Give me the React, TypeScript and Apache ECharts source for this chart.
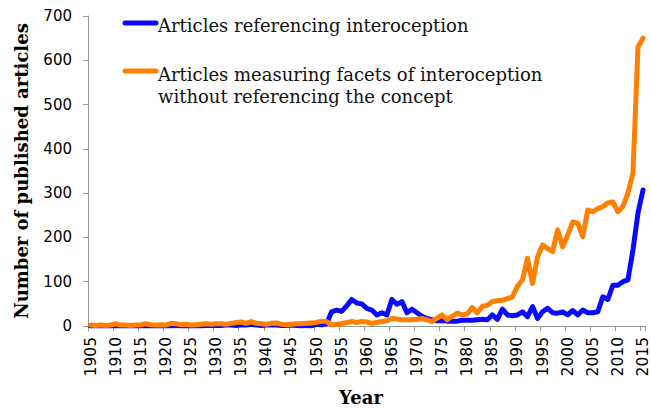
import React, { useEffect, useRef } from "react";
import * as echarts from "echarts";

const years: string[] = [
  "1905","1906","1907","1908","1909","1910","1911","1912","1913","1914",
  "1915","1916","1917","1918","1919","1920","1921","1922","1923","1924",
  "1925","1926","1927","1928","1929","1930","1931","1932","1933","1934",
  "1935","1936","1937","1938","1939","1940","1941","1942","1943","1944",
  "1945","1946","1947","1948","1949","1950","1951","1952","1953","1954",
  "1955","1956","1957","1958","1959","1960","1961","1962","1963","1964",
  "1965","1966","1967","1968","1969","1970","1971","1972","1973","1974",
  "1975","1976","1977","1978","1979","1980","1981","1982","1983","1984",
  "1985","1986","1987","1988","1989","1990","1991","1992","1993","1994",
  "1995","1996","1997","1998","1999","2000","2001","2002","2003","2004",
  "2005","2006","2007","2008","2009","2010","2011","2012","2013","2014",
  "2015",
];

// Articles referencing interoception (blue)
const referencing: number[] = [
  0,0,0,0,0,0,0,0,0,0,
  0,0,0,0,0,0,0,1,0,0,
  0,0,0,1,1,1,1,2,2,1,
  3,2,4,2,1,2,3,2,1,1,
  2,1,0,1,0,4,3,5,32,36,
  33,45,60,52,50,40,36,25,30,25,
  60,49,55,30,38,30,22,17,14,12,
  12,11,11,11,13,13,13,14,15,14,
  25,15,38,25,23,25,32,21,44,17,
  32,40,30,29,32,25,35,25,36,30,
  30,32,66,60,92,92,100,104,172,255,
  307,
];

// Articles measuring facets of interoception without referencing the concept (orange)
const measuring: number[] = [
  2,1,2,1,2,5,2,2,1,2,
  3,5,3,2,3,2,6,5,3,4,
  2,3,4,5,4,5,5,4,6,8,
  9,6,10,6,5,4,6,7,4,3,
  4,5,5,6,7,8,11,10,3,4,
  5,8,10,8,10,9,6,8,10,12,
  17,16,14,14,14,15,17,14,10,18,
  25,14,22,29,25,27,42,30,44,47,
  55,57,58,62,66,90,104,153,96,156,
  183,175,168,217,179,205,235,232,202,262,
  258,265,270,278,280,258,270,300,345,630,
  650,
];

const yTicks = { min: 0, max: 700, interval: 100 };

const xTitle = "Year";
const yTitle = "Number of published articles";
const legendLabels = [
  "Articles referencing interoception",
  "Articles measuring facets of interoception",
  "without referencing the concept",
];

const BLUE = "#0a0aff";
const ORANGE = "#ff8000";
const SERIF = "'DejaVu Serif', 'Liberation Serif', serif";
const SANS = "'DejaVu Sans', 'Liberation Sans', sans-serif";

export default function App() {
  const ref = useRef<HTMLDivElement>(null);
  useEffect(() => {
    if (!ref.current) return;
    const chart = echarts.init(ref.current, null, { renderer: "svg" });
    chart.setOption({
      animation: false,
      backgroundColor: "#ffffff",
      grid: { left: 88, right: 4, top: 16, bottom: 82 },
      xAxis: {
        type: "category",
        data: years,
        boundaryGap: true,
        axisLine: { lineStyle: { color: "#999", width: 1 } },
        axisTick: { show: true, interval: 4, length: 5, lineStyle: { color: "#999" } },
        axisLabel: {
          interval: 4,
          rotate: 90,
          fontFamily: SANS,
          fontSize: 15.5,
          color: "#000",
          margin: 11,
        },
        splitLine: { show: false },
      },
      yAxis: {
        type: "value",
        min: yTicks.min,
        max: yTicks.max,
        interval: yTicks.interval,
        name: yTitle,
        nameLocation: "middle",
        nameGap: 58,
        nameTextStyle: { fontFamily: SERIF, fontWeight: "bold", fontSize: 18, color: "#000" },
        axisLine: { show: true, lineStyle: { color: "#999", width: 1 } },
        axisTick: { show: true, length: 5, lineStyle: { color: "#999" } },
        axisLabel: { fontFamily: SANS, fontSize: 15, color: "#000", margin: 16 },
        splitLine: { show: false },
      },
      series: [
        {
          name: legendLabels[0],
          type: "line",
          data: referencing,
          symbol: "none",
          lineStyle: { color: BLUE, width: 5, join: "round", cap: "round" },
          itemStyle: { color: BLUE },
        },
        {
          name: legendLabels[1],
          type: "line",
          data: measuring,
          symbol: "none",
          lineStyle: { color: ORANGE, width: 5, join: "round", cap: "round" },
          itemStyle: { color: ORANGE },
        },
      ],
      graphic: [
        {
          type: "text",
          x: 361,
          y: 397,
          style: {
            text: xTitle,
            font: `bold 18px ${SERIF}`,
            fill: "#000",
            align: "center",
            verticalAlign: "middle",
          },
        },
        {
          type: "line",
          shape: { x1: 125, y1: 23, x2: 156, y2: 23 },
          style: { stroke: BLUE, lineWidth: 5, lineCap: "round" },
        },
        {
          type: "text",
          x: 158,
          y: 25,
          style: {
            text: legendLabels[0],
            font: `18px ${SERIF}`,
            fill: "#111",
            verticalAlign: "middle",
          },
        },
        {
          type: "line",
          shape: { x1: 125, y1: 71, x2: 156, y2: 71 },
          style: { stroke: ORANGE, lineWidth: 5, lineCap: "round" },
        },
        {
          type: "text",
          x: 158,
          y: 74,
          style: {
            text: legendLabels[1],
            font: `18px ${SERIF}`,
            fill: "#111",
            verticalAlign: "middle",
          },
        },
        {
          type: "text",
          x: 158,
          y: 96,
          style: {
            text: legendLabels[2],
            font: `18px ${SERIF}`,
            fill: "#111",
            verticalAlign: "middle",
          },
        },
      ],
    });
    return () => chart.dispose();
  }, []);
  return <div ref={ref} style={{ width: 651, height: 408, position: "fixed", left: 0, top: 0 }} />;
}
